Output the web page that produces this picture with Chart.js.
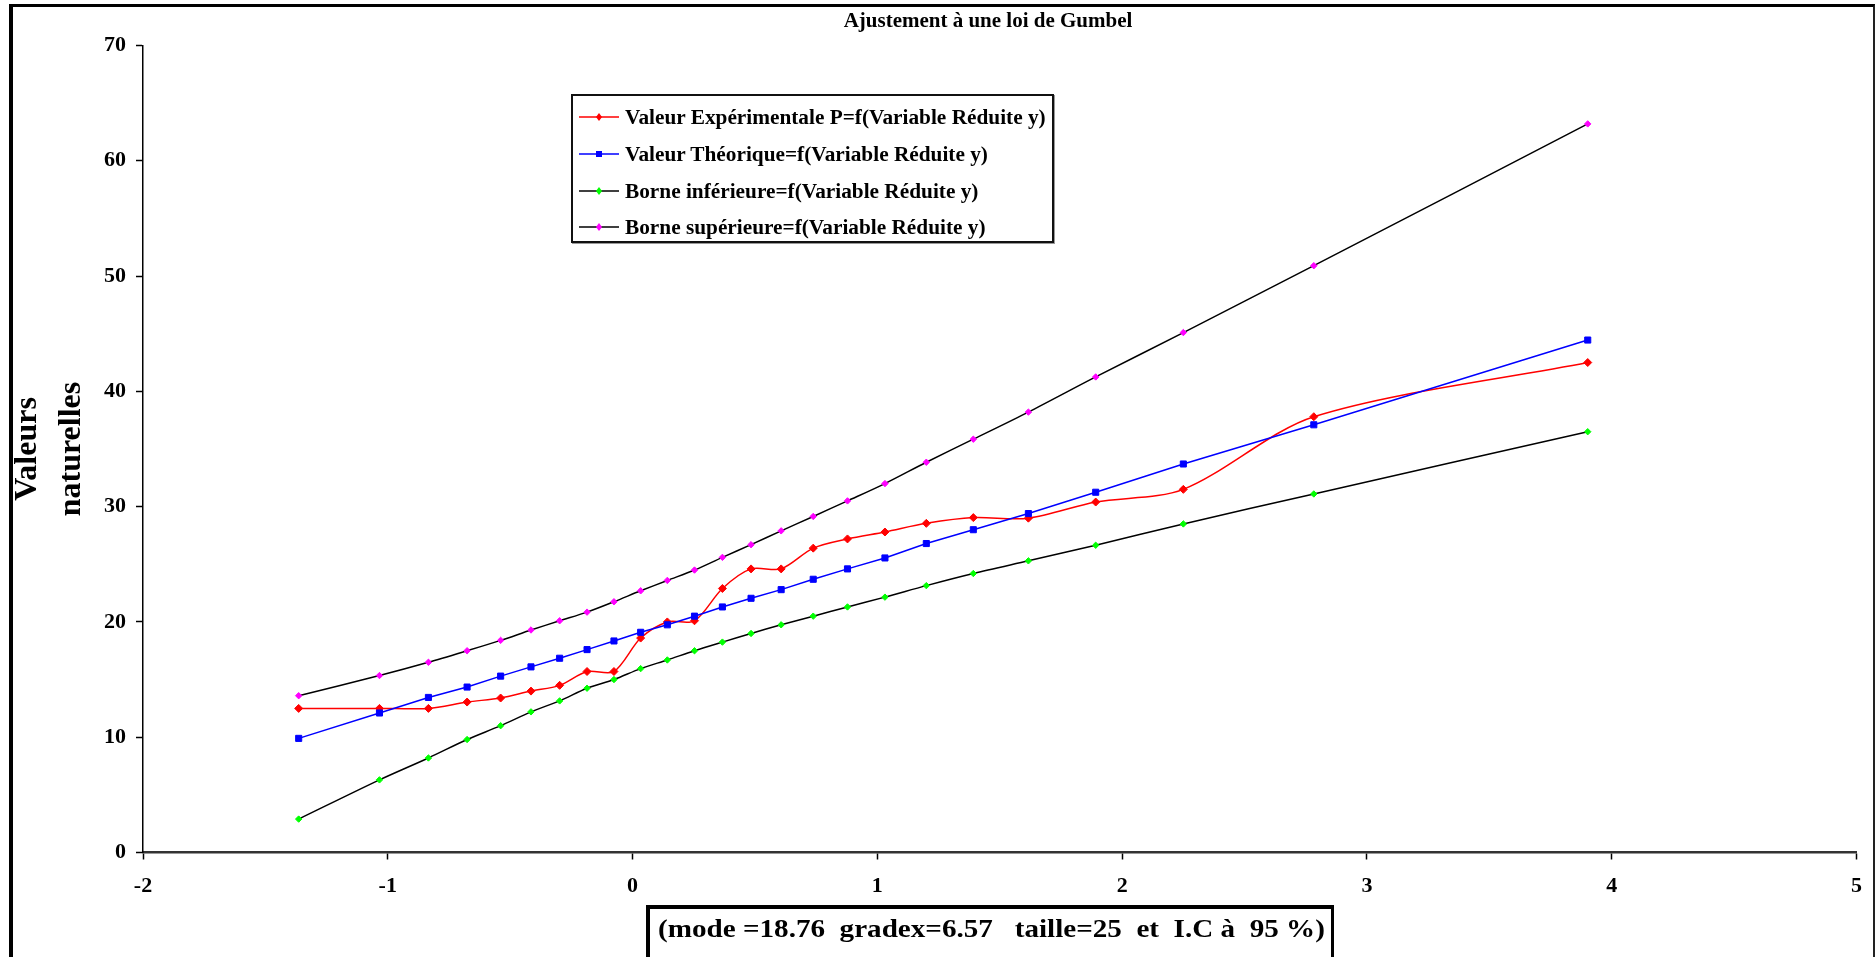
<!DOCTYPE html>
<html lang="fr">
<head>
    <meta charset="UTF-8">
    <title>Ajustement à une loi de Gumbel</title>
    <script src="https://cdn.jsdelivr.net/npm/chart.js"></script>
    <style>
        body { margin: 0; background: #fff; font-family: "Liberation Serif", "Times New Roman", serif; }
        #wrap { position: relative; width: 1876px; height: 957px; overflow: hidden; }
        #gumbel { position: absolute; left: 0; top: 0; }
        #frame { position: absolute; left: 9px; top: 4px; width: 1866px; height: 980px; box-sizing: border-box;
                 border-top: 3px solid #000; border-left: 4px solid #000; border-right: 2px solid #222; }
        #title { position: absolute; left: 0; width: 1976px; top: 8px; text-align: center; font-weight: bold; font-size: 21px; }
        #legend { position: absolute; left: 571px; top: 94px; width: 483px; height: 149px; box-sizing: border-box;
                  border: 2px solid #111; background: #fff; box-shadow: 1px 1px 0 #999; }
        .row { position: absolute; left: 6px; height: 30px; display: flex; align-items: center; font-weight: bold; font-size: 21.3px; white-space: nowrap; }
        .row canvas { margin-right: 6px; }
        #note { position: absolute; left: 646px; top: 905px; width: 688px; height: 80px; box-sizing: border-box;
                border-top: 4px solid #000; border-left: 4px solid #000; border-right: 3px solid #000; }
        #note span { position: absolute; left: 8px; top: 5px; font-weight: bold; font-size: 26px; white-space: pre;
                     transform: scaleX(1.12); transform-origin: 0 0; }
    </style>
</head>
<body>
<div id="wrap">
    <canvas id="gumbel" width="1876" height="957"></canvas>
    <div id="frame"></div>
    <div id="title">Ajustement à une loi de Gumbel</div>
    <div id="legend"></div>
    <div id="note"><span>(mode =18.76  gradex=6.57   taille=25  et  I.C à  95 %)</span></div>
</div>

<script>
    // variable réduite de Gumbel (axe x)
    const variableReduite = [-1.364, -1.034, -0.834, -0.676, -0.539, -0.415, -0.298, -0.186, -0.076, 0.033,
        0.142, 0.253, 0.367, 0.484, 0.607, 0.738, 0.878, 1.031, 1.200, 1.392,
        1.617, 1.892, 2.250, 2.783, 3.902];

    const valeurExp = [12.5, 12.5, 12.5, 13.05, 13.4, 14.0, 14.5, 15.7, 15.7, 18.6,
        20.0, 20.1, 22.9, 24.6, 24.6, 26.4, 27.2, 27.8, 28.55, 29.05,
        29.0, 30.4, 31.5, 37.8, 42.5];

    const valeurTheo = [9.9, 12.1, 13.45, 14.35, 15.3, 16.1, 16.85, 17.6, 18.35, 19.1,
        19.75, 20.5, 21.3, 22.05, 22.8, 23.7, 24.6, 25.55, 26.8, 28.0,
        29.4, 31.25, 33.7, 37.1, 44.45];

    const borneInf = [2.9, 6.3, 8.2, 9.8, 11.0, 12.2, 13.15, 14.25, 15.0, 15.95,
        16.7, 17.5, 18.25, 19.0, 19.75, 20.5, 21.3, 22.15, 23.15, 24.2,
        25.3, 26.65, 28.5, 31.1, 36.5];

    const borneSup = [13.6, 15.35, 16.5, 17.5, 18.4, 19.3, 20.1, 20.85, 21.75, 22.7,
        23.6, 24.5, 25.6, 26.7, 27.9, 29.15, 30.5, 32.0, 33.85, 35.85,
        38.2, 41.25, 45.1, 50.9, 63.2];

    const seriesLabels = [
        "Valeur Expérimentale P=f(Variable Réduite y)",
        "Valeur Théorique=f(Variable Réduite y)",
        "Borne inférieure=f(Variable Réduite y)",
        "Borne supérieure=f(Variable Réduite y)"
    ];

    const xTicks = [-2, -1, 0, 1, 2, 3, 4, 5];
    const yTicks = [0, 10, 20, 30, 40, 50, 60, 70];

    const serif = "'Liberation Serif', 'Times New Roman', serif";

    function toPoints(values) {
        return values.map((v, i) => ({ x: variableReduite[i], y: v }));
    }

    const styles = [
        { line: "#ff0000", marker: "#ff0000", shape: "rectRot", r: 4, tension: 0.3 },
        { line: "#0000ff", marker: "#0000ff", shape: "rect", r: 4.3, tension: 0 },
        { line: "#000000", marker: "#00ff00", shape: "rectRot", r: 3.2, tension: 0.3 },
        { line: "#000000", marker: "#ff00ff", shape: "rectRot", r: 3.2, tension: 0.3 }
    ];
    const allValues = [valeurExp, valeurTheo, borneInf, borneSup];

    const datasets = allValues.map((vals, i) => ({
        label: seriesLabels[i],
        data: toPoints(vals),
        borderColor: styles[i].line,
        borderWidth: 1.5,
        tension: styles[i].tension,
        pointStyle: styles[i].shape,
        pointRadius: styles[i].r,
        pointBackgroundColor: styles[i].marker,
        pointBorderColor: styles[i].marker,
        pointBorderWidth: 1,
        order: 4 - i
    }));

    new Chart(document.getElementById("gumbel"), {
        type: "line",
        data: { datasets: datasets },
        options: {
            responsive: false,
            animation: false,
            layout: { padding: { top: 45.5, right: 18, bottom: 0, left: 0 } },
            plugins: {
                legend: { display: false },
                tooltip: { enabled: false }
            },
            scales: {
                x: {
                    type: "linear",
                    min: -2,
                    max: 5,
                    afterBuildTicks: s => { s.ticks = xTicks.map(v => ({ value: v })); },
                    afterFit: s => { s.height = 104.5; },
                    ticks: { color: "#000", padding: 14, font: { family: serif, size: 22, weight: "bold" } },
                    grid: { drawOnChartArea: false, drawTicks: true, tickLength: 7, color: "#000", tickWidth: 1.5 },
                    border: { display: true, color: "#333", width: 2.5 }
                },
                y: {
                    min: 0,
                    max: 70,
                    afterBuildTicks: s => { s.ticks = yTicks.map(v => ({ value: v })); },
                    afterFit: s => { s.width = 143; },
                    ticks: { color: "#000", padding: 10, font: { family: serif, size: 22, weight: "bold" } },
                    grid: { drawOnChartArea: false, drawTicks: true, tickLength: 7, color: "#000", tickWidth: 1.5 },
                    border: { display: true, color: "#000", width: 1.5 },
                    title: {
                        display: true,
                        text: ["Valeurs", "naturelles"],
                        color: "#000",
                        padding: { top: 6, bottom: 0 },
                        font: { family: serif, size: 32, weight: "bold", lineHeight: "44px" }
                    }
                }
            }
        }
    });

    // légende en HTML (trait + marqueur)
    const legend = document.getElementById("legend");
    const rowCenters = [21, 58, 95, 131];
    seriesLabels.forEach((label, i) => {
        const row = document.createElement("div");
        row.className = "row";
        row.style.top = (rowCenters[i] - 15) + "px";
        const c = document.createElement("canvas");
        c.width = 40; c.height = 12;
        const ctx = c.getContext("2d");
        ctx.strokeStyle = styles[i].line;
        ctx.lineWidth = 1.5;
        ctx.beginPath(); ctx.moveTo(0, 6); ctx.lineTo(40, 6); ctx.stroke();
        ctx.fillStyle = styles[i].marker;
        ctx.beginPath();
        if (styles[i].shape === "rect") {
            ctx.rect(17, 3, 6, 6);
        } else {
            ctx.moveTo(20, 2); ctx.lineTo(23, 6); ctx.lineTo(20, 10); ctx.lineTo(17, 6); ctx.closePath();
        }
        ctx.fill();
        row.appendChild(c);
        row.appendChild(document.createTextNode(label));
        legend.appendChild(row);
    });
</script>
</body>
</html>
